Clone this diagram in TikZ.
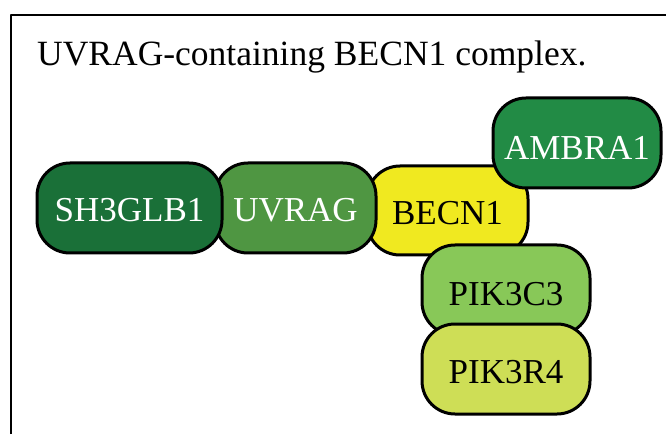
\documentclass[tikz,border=0pt]{standalone}
\usepackage{fontspec}
\setmainfont{Liberation Serif}
\usepackage{tikz}
\usetikzlibrary{positioning}

\definecolor{sgreen}{HTML}{1A7038}
\definecolor{ugreen}{HTML}{4F9642}
\definecolor{byellow}{HTML}{F0E920}
\definecolor{agreen}{HTML}{228B45}
\definecolor{cgreen}{HTML}{88C858}
\definecolor{rgreen}{HTML}{CEDE56}

\begin{document}
\begin{tikzpicture}[x=1pt, y=1pt, line cap=round, line join=round,
		prot/.style={draw=black, line width=3pt, rounded corners=33pt,
			minimum height=90pt, inner sep=0pt, text height=28pt, text depth=0pt,
			font=\fontsize{35}{38}\selectfont},
		light/.style={prot, text=white}]
			
			% Page and frame
			\useasboundingbox (0,0) rectangle (666,434);
			\draw[line width=2.5pt, line cap=butt] (11,0) -- (11,419) -- (666,419);
			
			% Title
			\node[anchor=base west, inner sep=0pt, font=\fontsize{35.5}{38}\selectfont] (title) at (37,368) {UVRAG-containing BECN1 complex.};
			
			% BECN1 at the back
			\node[prot, fill=byellow, minimum width=161pt, minimum height=89pt] (becn1) at (447.5,223.5) {BECN1};
			
			% Chain to the left
			\node[light, fill=ugreen, minimum width=161pt] (uvrag) at (295.5,226) {UVRAG};
			\node[light, fill=sgreen, minimum width=185pt] (sh3glb1) at (129.5,226) {SH3GLB1};
			
			% Upper right
			\node[light, fill=agreen, minimum width=168pt, text height=33pt] (ambra1) at (577,291) {AMBRA1};
			
			% Kinase pair below
			\node[prot, fill=cgreen, minimum width=168pt, text height=30pt] (pik3c3) at (506,144) {PIK3C3};
			\node[prot, fill=rgreen, minimum width=168pt] (pik3r4) at (506,65) {PIK3R4};
			
		\end{tikzpicture}
\end{document}
